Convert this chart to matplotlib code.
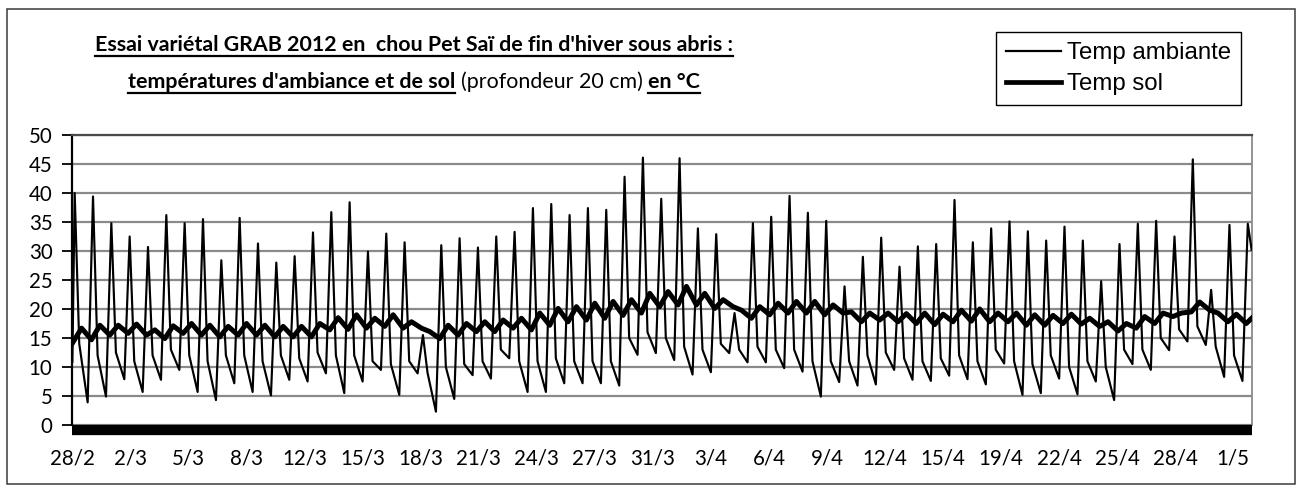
import matplotlib
matplotlib.use("Agg")
import matplotlib.pyplot as plt
import matplotlib.transforms as mtransforms
from matplotlib.lines import Line2D
from matplotlib.patches import Rectangle

plt.rcParams['font.family'] = ['Lato', 'DejaVu Sans']

# ---------------- data ----------------
start_hour = 11          # first record: 28/2 at 11:00 (hourly records)
n_points = 1545          # number of hourly records
label_step = 76          # one category label every 76 records
tick_labels = ["28/2", "2/3", "5/3", "8/3", "12/3", "15/3", "18/3", "21/3",
               "24/3", "27/3", "31/3", "3/4", "6/4", "9/4", "12/4", "15/4",
               "19/4", "22/4", "25/4", "28/4", "1/5"]

# ambient temperature: daily maximum (~14h), days 0..64
amb_max = [40.0, 39.4, 34.8, 32.5, 30.7, 36.2, 34.8, 35.5, 28.4, 35.7,
           31.3, 28.0, 29.1, 33.2, 36.7, 38.4, 29.9, 33.0, 31.5, 15.5,
           31.0, 32.2, 30.6, 32.5, 33.3, 37.4, 38.1, 36.2, 37.4, 37.1,
           42.8, 46.1, 39.0, 46.0, 33.9, 32.9, 19.3, 34.8, 35.9, 39.5,
           36.6, 35.2, 23.9, 29.0, 32.3, 27.3, 30.8, 31.2, 38.8, 31.5,
           33.9, 35.1, 33.4, 31.8, 34.2, 31.8, 24.8, 31.2, 34.7, 35.2,
           32.5, 45.8, 23.3, 34.5, 34.7]
# ambient: morning minimum (~7h), days 1..64
amb_min = [3.9, 4.9, 7.9, 5.7, 7.8, 9.5, 5.7, 4.3, 7.2, 5.7,
           5.1, 7.8, 7.5, 8.9, 5.5, 7.5, 9.5, 5.2, 8.9, 2.3,
           4.5, 8.6, 8.0, 11.5, 5.7, 5.7, 7.2, 7.2, 7.2, 6.8,
           12.1, 12.4, 11.2, 8.7, 9.1, 12.4, 10.8, 10.8, 9.8, 9.2,
           4.9, 7.4, 6.8, 7.0, 9.5, 7.8, 7.6, 8.5, 7.9, 7.0,
           10.6, 5.2, 5.5, 8.0, 5.3, 7.5, 4.3, 10.5, 9.5, 12.9,
           14.4, 13.8, 8.3, 7.6]
# ambient: evening value (~20h), days 0..63
amb_eve = [14, 12, 12.5, 11, 12, 13, 12, 11, 12, 12,
           11, 12, 11.5, 12.5, 12, 12, 11, 10.5, 11, 9,
           10, 10.5, 11, 13, 11, 11, 11.5, 11, 11, 11,
           15, 16, 15, 13.5, 13, 14, 13, 13.5, 13, 13,
           11, 11, 11, 12, 12.5, 11.5, 11, 11.5, 12, 11,
           13, 11, 10.5, 12, 10, 11, 10, 13, 13, 15,
           16.5, 17, 13.5, 12]
amb_start, amb_end = 10.9, 30.2

# soil temperature: daily maximum (~23h), days 0..63
soil_max = [16.7, 17.2, 17.2, 17.4, 16.4, 17.1, 17.5, 17.2, 17.0, 17.5,
            17.2, 17.0, 17.0, 17.5, 18.5, 19.0, 18.4, 19.0, 17.8, 16.1,
            17.2, 17.5, 17.8, 18.1, 18.4, 19.3, 20.1, 20.4, 21.0, 21.3,
            21.6, 22.7, 23.0, 23.9, 22.7, 21.6, 19.8, 20.4, 21.0, 21.3,
            21.3, 20.7, 19.5, 19.3, 19.3, 19.2, 19.3, 19.1, 19.8, 20.0,
            19.3, 19.3, 19.0, 18.9, 19.1, 18.4, 17.8, 17.5, 18.7, 19.3,
            19.3, 21.2, 19.3, 19.1]
# soil: daily minimum (~12h), days 1..64
soil_min = [14.7, 15.5, 15.8, 15.5, 14.9, 15.8, 15.5, 15.2, 15.5, 15.5,
            15.2, 15.2, 15.2, 16.4, 16.5, 16.7, 17.0, 16.7, 16.7, 14.9,
            15.5, 16.1, 16.1, 16.7, 16.4, 17.2, 17.8, 18.1, 18.4, 18.9,
            19.3, 20.4, 20.7, 20.7, 20.1, 20.4, 18.4, 19.0, 19.3, 19.3,
            19.0, 19.3, 17.8, 18.1, 17.8, 17.5, 17.3, 17.8, 17.9, 17.8,
            17.8, 17.2, 17.2, 17.5, 17.4, 17.0, 16.2, 16.7, 17.5, 18.7,
            19.5, 19.8, 17.8, 17.5]
soil_start, soil_end = 14.1, 18.4

series_names = ["Temp ambiante", "Temp sol"]
title_line1 = "Essai variétal GRAB 2012 en  chou Pet Saï de fin d'hiver sous abris :"
title_line2 = [("températures d'ambiance et de sol", 'bold', True),
               ("(profondeur 20 cm)", 'normal', False),
               ("en °C", 'bold', True)]

# ---------------- build series ----------------
end_hour = start_hour + n_points - 1
n_days = len(amb_max)

t_amb, v_amb = [start_hour], [amb_start]
for d in range(n_days):
    if d >= 1:
        t_amb.append(24 * d + 7); v_amb.append(amb_min[d - 1])
    t_amb.append(24 * d + 14); v_amb.append(amb_max[d])
    if d < len(amb_eve):
        t_amb.append(24 * d + 20); v_amb.append(amb_eve[d])
t_amb.append(end_hour); v_amb.append(amb_end)

t_soil, v_soil = [start_hour], [soil_start]
for d in range(n_days):
    if d >= 1:
        t_soil.append(24 * d + 12); v_soil.append(soil_min[d - 1])
    if d < len(soil_max):
        t_soil.append(24 * d + 23); v_soil.append(soil_max[d])
t_soil.append(end_hour); v_soil.append(soil_end)

# ---------------- figure ----------------
W, H, DPI = 1297, 486, 100
fig = plt.figure(figsize=(W / DPI, H / DPI), dpi=DPI)
fig.patch.set_facecolor('white')

# outer border
fig.patches.append(Rectangle((7, 2), 1288, 475, transform=mtransforms.IdentityTransform(),
                             fill=False, edgecolor='#3a3a3a', linewidth=1.1))

ax = fig.add_axes([72 / W, 1 - 425 / H, (1252 - 72) / W, (425 - 135) / H])
l_amb, = ax.plot(t_amb, v_amb, color='black', lw=1.55, zorder=3,
                 solid_joinstyle='round')
l_soil, = ax.plot(t_soil, v_soil, color='black', lw=3.6, zorder=4,
                  solid_joinstyle='round')

ax.set_xlim(start_hour - 0.5, start_hour + n_points - 0.5)
ax.set_ylim(0, 50)
ax.set_yticks(range(0, 51, 5))
ticks = [start_hour + label_step * k for k in range(len(tick_labels))]
ax.set_xticks(ticks)
ax.set_xticklabels(tick_labels)
ax.tick_params(axis='x', length=0, pad=17, labelsize=14.8)
ax.tick_params(axis='y', direction='out', length=7, width=1.3, pad=7, labelsize=14.8)

ax.yaxis.grid(True, color='#8a8a8a', lw=1.6)
ax.set_axisbelow(True)
ax.spines['bottom'].set_visible(False)
ax.spines['left'].set_linewidth(1.6)
ax.spines['top'].set_color('#4a4a4a')
ax.spines['top'].set_linewidth(1.6)
ax.spines['right'].set_color('#8a8a8a')
ax.spines['right'].set_linewidth(1.3)

# thick horizontal axis line at 0
bar_tr = mtransforms.offset_copy(ax.transAxes, fig=fig, x=0, y=-5, units='dots')
ax.add_line(Line2D([0, 1], [0, 0], transform=bar_tr, color='black', lw=7.4,
                   solid_capstyle='butt', clip_on=False, zorder=6))

# legend
leg = ax.legend([l_amb, l_soil], series_names, loc='upper left',
                bbox_to_anchor=(996 / W, 1 - 32 / H), bbox_transform=fig.transFigure,
                frameon=True, fancybox=False, edgecolor='black', framealpha=1,
                prop={'family': 'Liberation Sans', 'size': 17.3},
                handlelength=2.3, handletextpad=0.22, labelspacing=0.38,
                borderpad=0.42, borderaxespad=0)
leg.get_frame().set_linewidth(1.0)
for h in leg.get_lines():
    h.set_linewidth(1.6 if h.get_linewidth() < 2 else 3.4)

# ---------------- title ----------------
renderer = fig.canvas.get_renderer()
TF = ['Lato', 'DejaVu Sans']


def text_width(s, size, weight):
    t = fig.text(0, 0, s, fontsize=size, fontweight=weight, family=TF)
    w = t.get_window_extent(renderer).width
    t.remove()
    return w


base = 15.0
tsize = base * 640 / text_width(title_line1, base, 'bold')
center_x = 414


def draw_pieces(pieces, baseline_y):
    widths = [text_width(p, tsize, w) for p, w, _ in pieces]
    space = text_width("a a", tsize, 'normal') - text_width("aa", tsize, 'normal')
    total = sum(widths) + space * (len(pieces) - 1)
    x = center_x - total / 2
    ydisp = H - baseline_y
    for (p, w, ul), wd in zip(pieces, widths):
        fig.text(x / W, ydisp / H, p, fontsize=tsize, fontweight=w, family=TF,
                 ha='left', va='baseline')
        if ul:
            fig.add_artist(Line2D([x, x + wd], [ydisp - 4.5, ydisp - 4.5],
                                  transform=mtransforms.IdentityTransform(),
                                  color='black', lw=1.6))
        x += wd + space


draw_pieces([(title_line1, 'bold', True)], 51)
draw_pieces(title_line2, 88)

fig.savefig("out.png", dpi=DPI, facecolor='white')
